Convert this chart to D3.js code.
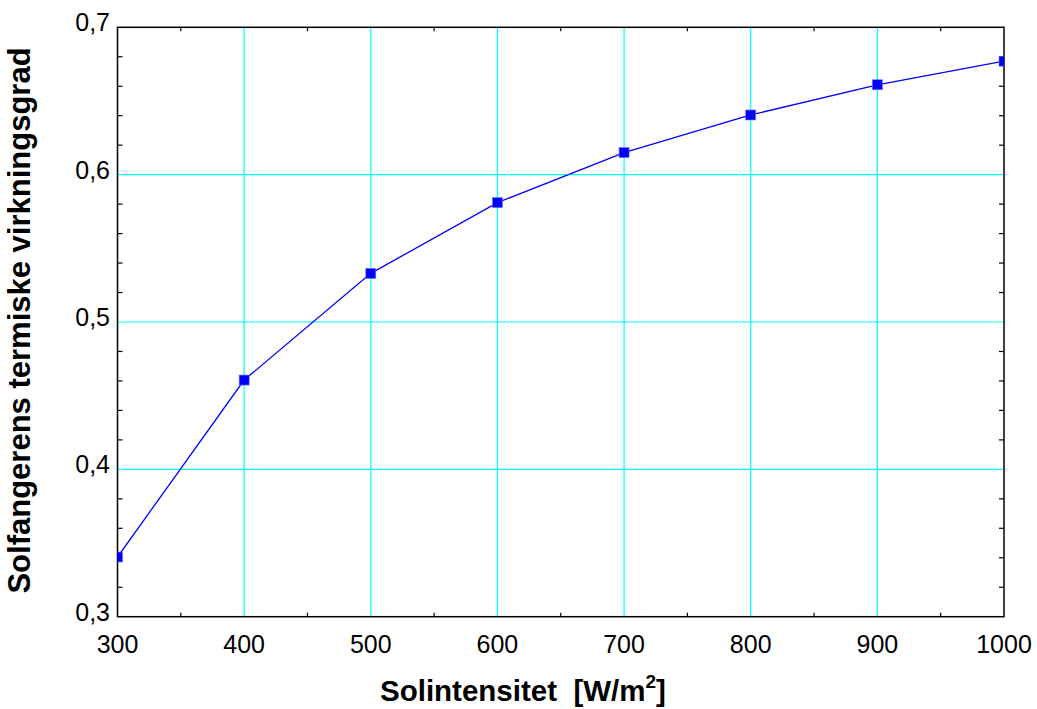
<!DOCTYPE html>
<html>
<head>
<meta charset="utf-8">
<script src="https://cdn.jsdelivr.net/npm/d3@7.9.0/dist/d3.min.js"></script>
<style>
  html, body { margin: 0; padding: 0; background: #fff; }
  svg { display: block; font-family: "Liberation Sans", Arial, sans-serif; }
</style>
</head>
<body>
<div id="chart"></div>
<script>
// data
const irradiance = [300, 400, 500, 600, 700, 800, 900, 1000];
const efficiency = [0.3405, 0.4606, 0.533, 0.581, 0.615, 0.6405, 0.661, 0.677];

const xTicks = [300, 400, 500, 600, 700, 800, 900, 1000];
const yTicks = [0.3, 0.4, 0.5, 0.6, 0.7];
const xMinor = [350, 450, 550, 650, 750, 850, 950];
const yMinor = d3.range(0.32, 0.7, 0.02).filter(v => Math.abs(v * 10 - Math.round(v * 10)) > 1e-6);

const width = 1037;
const height = 709;
const plot = { left: 117.5, right: 1004, top: 27.3, bottom: 616.7 };

const svg = d3.select("#chart")
    .append("svg")
    .attr("width", width)
    .attr("height", height);

const x = d3.scaleLinear().domain([300, 1000]).range([plot.left, plot.right]);
const y = d3.scaleLinear().domain([0.3, 0.7]).range([plot.bottom, plot.top]);

// clip so end markers are cut at the frame
svg.append("clipPath").attr("id", "plotclip")
    .append("rect")
    .attr("x", plot.left).attr("y", plot.top)
    .attr("width", plot.right - plot.left)
    .attr("height", plot.bottom - plot.top);

// gridlines (cyan)
const grid = svg.append("g").attr("stroke", "#00ffff").attr("stroke-width", 1.2);
grid.selectAll(".gx")
    .data(xTicks.slice(1, -1))
    .join("line")
    .attr("x1", d => x(d)).attr("x2", d => x(d))
    .attr("y1", plot.top).attr("y2", plot.bottom);
grid.selectAll(".gy")
    .data(yTicks.slice(1, -1))
    .join("line")
    .attr("x1", plot.left).attr("x2", plot.right)
    .attr("y1", d => y(d)).attr("y2", d => y(d));

// inward minor ticks on all four sides
const ticks = svg.append("g").attr("stroke", "#000").attr("stroke-width", 1.2);
xMinor.forEach(v => {
    ticks.append("line").attr("x1", x(v)).attr("x2", x(v)).attr("y1", plot.bottom).attr("y2", plot.bottom - 4);
    ticks.append("line").attr("x1", x(v)).attr("x2", x(v)).attr("y1", plot.top).attr("y2", plot.top + 4);
});
yMinor.forEach(v => {
    ticks.append("line").attr("x1", plot.left).attr("x2", plot.left + 5).attr("y1", y(v)).attr("y2", y(v));
    ticks.append("line").attr("x1", plot.right).attr("x2", plot.right - 5).attr("y1", y(v)).attr("y2", y(v));
});

// frame
svg.append("rect")
    .attr("x", plot.left).attr("y", plot.top)
    .attr("width", plot.right - plot.left)
    .attr("height", plot.bottom - plot.top)
    .attr("fill", "none")
    .attr("stroke", "#000")
    .attr("stroke-width", 1.5);

// data line + markers
const pts = irradiance.map((d, i) => [d, efficiency[i]]);
const line = d3.line().x(d => x(d[0])).y(d => y(d[1]));

const series = svg.append("g").attr("clip-path", "url(#plotclip)");
series.append("path")
    .datum(pts)
    .attr("fill", "none")
    .attr("stroke", "#0000ff")
    .attr("stroke-width", 1.3)
    .attr("d", line);

const ms = 10;
series.selectAll("rect.m")
    .data(pts)
    .join("rect")
    .attr("class", "m")
    .attr("x", d => x(d[0]) - ms / 2)
    .attr("y", d => y(d[1]) - ms / 2)
    .attr("width", ms)
    .attr("height", ms)
    .attr("fill", "#0000ff")
    .attr("stroke", "#6f6fff")
    .attr("stroke-width", 0.6);

// tick labels
svg.append("g")
    .selectAll("text")
    .data(xTicks)
    .join("text")
    .attr("x", d => x(d))
    .attr("y", plot.bottom + 36)
    .attr("text-anchor", "middle")
    .attr("font-size", 25)
    .text(d => d);

svg.append("g")
    .selectAll("text")
    .data(yTicks)
    .join("text")
    .attr("x", plot.left - 7.5)
    .attr("y", d => y(d) + 4)
    .attr("text-anchor", "end")
    .attr("font-size", 25)
    .text(d => d3.format(".1f")(d).replace(".", ","));

// axis titles
const xt = svg.append("text")
    .attr("x", 380)
    .attr("y", 701)
    .attr("font-size", 29.5)
    .attr("font-weight", "bold");
xt.append("tspan").text("Solintensitet\u00a0\u00a0[W/m");
xt.append("tspan").attr("font-size", 19).attr("dy", -13).text("2");
xt.append("tspan").attr("dy", 13).text("]");

svg.append("text")
    .attr("transform", `translate(30,320.5) rotate(-90)`)
    .attr("text-anchor", "middle")
    .attr("font-size", 31)
    .attr("font-weight", "bold")
    .text("Solfangerens termiske virkningsgrad");
</script>
</body>
</html>
